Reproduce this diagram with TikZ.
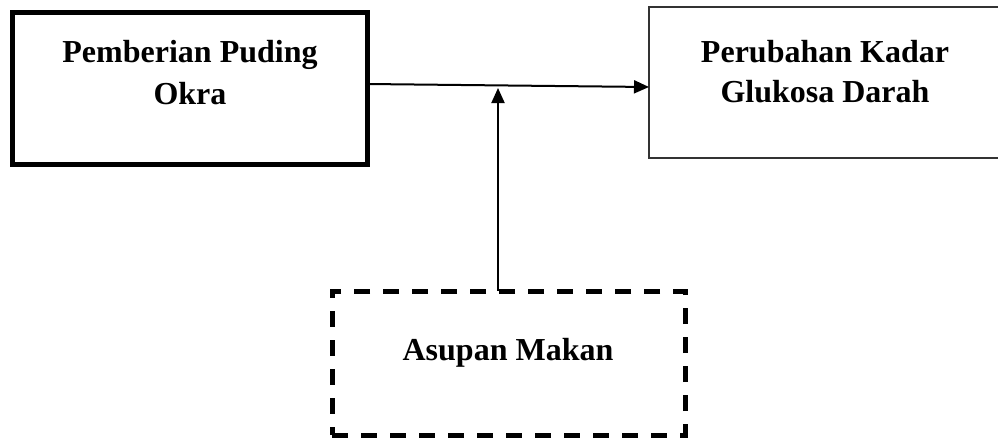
\documentclass[tikz,border=0pt]{standalone}
\usepackage{fontspec}
\setmainfont{Liberation Serif}
\usetikzlibrary{arrows.meta}
\begin{document}
\begin{tikzpicture}[x=1pt,y=-1pt,
  box/.style={draw=black,rectangle,inner sep=0pt,outer sep=0pt},
  lbl/.style={anchor=base,inner sep=0pt,font=\fontsize{32}{42}\selectfont\bfseries},
  arr/.style={draw=black,line width=2pt,-{Triangle[length=15pt,width=13pt]}}]
\useasboundingbox (0,0) rectangle (998,442);
\fill[white] (0,0) rectangle (998,442);
\node[box,line width=5pt,minimum width=355pt,minimum height=152pt] (lbox) at (190,88.5) {};
\node[box,line width=1.2pt,draw=black!80,minimum width=355pt,minimum height=151pt] (rbox) at (826.5,82.5) {};
\node[box,line width=5pt,dash pattern=on 16pt off 13pt,minimum width=353pt,minimum height=144pt] (dbox) at (508.5,363) {};
\node[lbl] (t1) at (190,62) {Pemberian Puding};
\node[lbl] (t2) at (190,104) {Okra};
\node[lbl] (t3) at (825,62) {Perubahan Kadar};
\node[lbl] (t4) at (825,102) {Glukosa Darah};
\node[lbl] (t5) at (508,360) {Asupan Makan};
\coordinate (m) at (498,88);
\draw[arr] ([yshift=4.5pt]lbox.east) -- ([yshift=-4.5pt]rbox.west);
\draw[arr] (dbox.north -| m) -- (m);
\end{tikzpicture}
\end{document}
